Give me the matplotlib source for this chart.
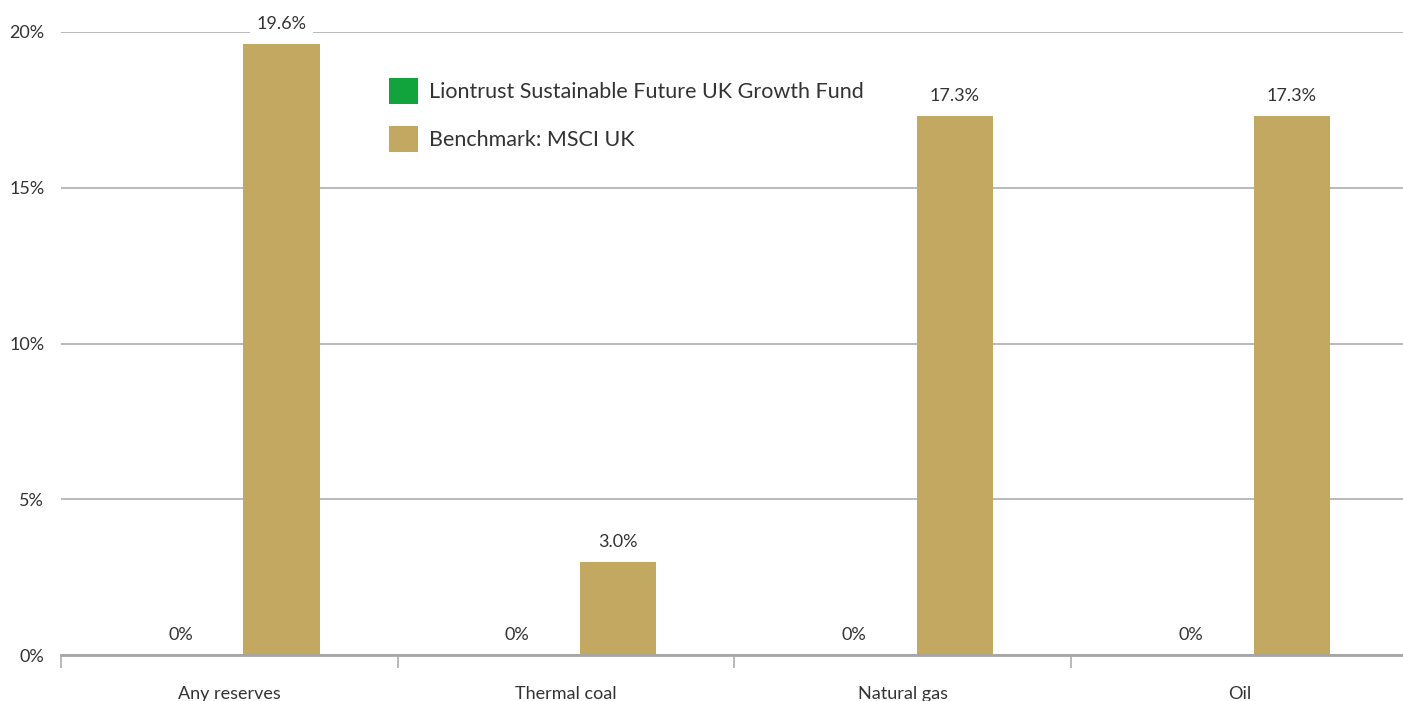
"""Fossil fuel reserves exposure: fund vs benchmark."""

import matplotlib
matplotlib.use("Agg")
import matplotlib.pyplot as plt
from matplotlib.patches import Patch
from matplotlib.ticker import FixedLocator, NullFormatter

categories = ["Any reserves", "Thermal coal", "Natural gas", "Oil"]
fund_values = [0, 0, 0, 0]
benchmark_values = [19.6, 3.0, 17.3, 17.3]
series_names = ["Liontrust Sustainable Future UK Growth Fund", "Benchmark: MSCI UK"]
y_ticks = [0, 5, 10, 15, 20]

FUND_COLOR = "#11a43c"
BENCH_COLOR = "#c2a861"
TEXT_COLOR = "#333333"
GRID_COLOR = "#b4b4b4"

plt.rcParams["font.family"] = ["Lato", "DejaVu Sans"]

fig = plt.figure(figsize=(14.03, 7.01), dpi=100)
axis = fig.add_axes([61 / 1403, 46 / 701, 1346.7 / 1403, 623 / 701])

positions = list(range(len(categories)))
bar_width = 0.226
fund_x = [p + 0.355 for p in positions]
bench_x = [p + 0.655 for p in positions]

axis.bar(fund_x, fund_values, width=bar_width, color=FUND_COLOR, zorder=3)
axis.bar(bench_x, benchmark_values, width=bar_width, color=BENCH_COLOR, zorder=3)

# value labels
for x, value in zip(fund_x, fund_values):
    axis.annotate(f"{value:g}%", xy=(x, value), xytext=(0, 14.4), textcoords="offset points",
                  ha="center", va="center", fontsize=13, color=TEXT_COLOR)
for x, value in zip(bench_x, benchmark_values):
    axis.annotate(f"{value:.1f}%", xy=(x, value), xytext=(0, 14.4), textcoords="offset points",
                  ha="center", va="center", fontsize=13, color=TEXT_COLOR, zorder=4,
                  bbox=dict(boxstyle="square,pad=0.35", facecolor="white", edgecolor="none"),
                  annotation_clip=False)

axis.set_xlim(0, len(categories))
axis.set_ylim(0, 20)

axis.set_yticks(y_ticks)
axis.set_yticklabels([f"{t}%" for t in y_ticks])
axis.tick_params(axis="y", length=0, pad=12, labelsize=13, labelcolor=TEXT_COLOR)
axis.yaxis.grid(True, color=GRID_COLOR, linewidth=1.3, zorder=0)

axis.set_xticks([p + 0.5 for p in positions])
axis.set_xticklabels(categories)
axis.tick_params(axis="x", which="major", length=0, pad=22, labelsize=13, labelcolor=TEXT_COLOR)
axis.xaxis.set_minor_locator(FixedLocator(positions))
axis.xaxis.set_minor_formatter(NullFormatter())
axis.tick_params(axis="x", which="minor", length=9, width=1.3, color=GRID_COLOR)

for side in ["top", "right", "left"]:
    axis.spines[side].set_visible(False)
axis.spines["bottom"].set_color("#a6a6a6")
axis.spines["bottom"].set_linewidth(2)
axis.spines["bottom"].set_zorder(5)

handles = [Patch(facecolor=FUND_COLOR), Patch(facecolor=BENCH_COLOR)]
fig.legend(handles, series_names, loc="upper left",
           bbox_to_anchor=(389 / 1403, 1 - 78 / 701), bbox_transform=fig.transFigure,
           frameon=False, fontsize=15.5, borderpad=0, borderaxespad=0,
           handlelength=1.35, handleheight=1.45, handletextpad=0.5, labelspacing=1.05,
           labelcolor=TEXT_COLOR)

fig.savefig("out.png", dpi=100)
